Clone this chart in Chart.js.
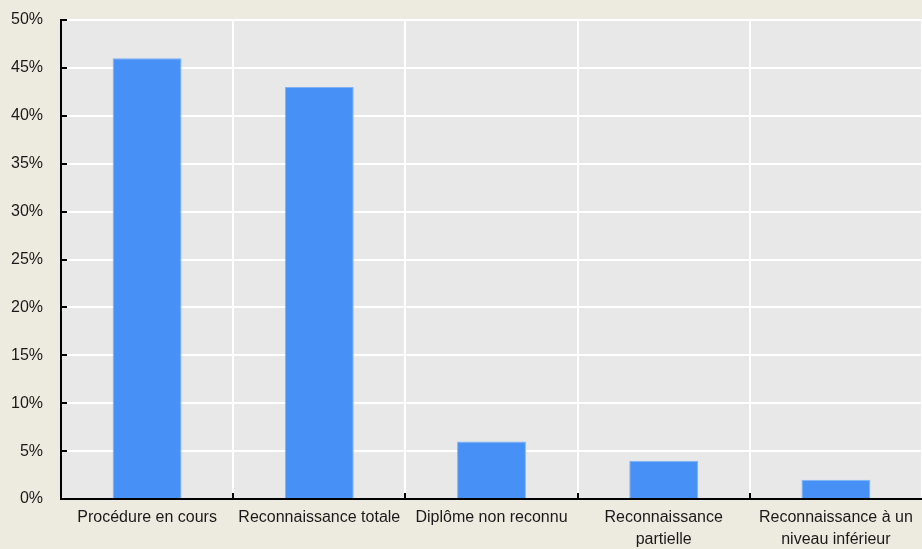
<!DOCTYPE html>
<html>
<head>
<meta charset="utf-8">
<script src="https://cdn.jsdelivr.net/npm/chart.js@4"></script>
<style>
  html, body { margin: 0; padding: 0; background: #edeadf; }
  #wrap { width: 922px; height: 549px; position: relative; }
</style>
</head>
<body>
<div id="wrap"><canvas id="bar-chart"></canvas></div>
<script>
var categories = [
  "Procédure en cours",
  "Reconnaissance totale",
  "Diplôme non reconnu",
  ["Reconnaissance", "partielle"],
  ["Reconnaissance à un", "niveau inférieur"]
];
var shares = [46, 43, 6, 4, 2];
var yTicks = [0, 5, 10, 15, 20, 25, 30, 35, 40, 45, 50];

// grey plot background behind everything
var plotBackground = {
  id: 'plotBackground',
  beforeDraw: function(chart) {
    var a = chart.chartArea, ctx = chart.ctx;
    ctx.save();
    ctx.fillStyle = '#e8e8e8';
    ctx.fillRect(a.left, a.top, a.right - a.left, a.bottom - a.top);
    ctx.restore();
  }
};

// small tick marks pointing into the plot, on both axes
var innerTicks = {
  id: 'innerTicks',
  afterDatasetsDraw: function(chart) {
    var ctx = chart.ctx, a = chart.chartArea;
    var x = chart.scales.x, y = chart.scales.y;
    ctx.save();
    ctx.strokeStyle = '#000';
    ctx.lineWidth = 2;
    ctx.beginPath();
    y.ticks.forEach(function(t, i) {
      var py = Math.round(y.getPixelForTick(i));
      ctx.moveTo(a.left, py);
      ctx.lineTo(a.left + 6, py);
    });
    for (var i = 1; i < categories.length; i++) {
      var px = Math.round((x.getPixelForTick(i - 1) + x.getPixelForTick(i)) / 2);
      ctx.moveTo(px, a.bottom);
      ctx.lineTo(px, a.bottom - 6);
    }
    ctx.stroke();
    ctx.restore();
  }
};

Chart.defaults.font.family = '"Liberation Sans", Arial, sans-serif';
Chart.defaults.font.size = 16;
Chart.defaults.color = '#1a1a1a';

new Chart(document.getElementById("bar-chart"), {
  type: 'bar',
  data: {
    labels: categories,
    datasets: [{
      data: shares,
      backgroundColor: '#4690f6',
      borderColor: '#7db2f6',
      borderWidth: 1,
      categoryPercentage: 1,
      barPercentage: 0.4
    }]
  },
  plugins: [plotBackground, innerTicks],
  options: {
    responsive: true,
    maintainAspectRatio: false,
    animation: false,
    layout: { padding: { left: 10, top: 20, right: 0, bottom: 0 } },
    plugins: {
      legend: { display: false },
      tooltip: { enabled: false }
    },
    scales: {
      x: {
        grid: { color: '#ffffff', lineWidth: 2, drawTicks: false, offset: true },
        border: { color: '#000', width: 2 },
        ticks: { padding: 8, maxRotation: 0, autoSkip: false, font: { lineHeight: 1.35 } },
        afterFit: function(s) {
          s.height = 50;
          s.paddingLeft = 0;
          s.paddingRight = 0;
        }
      },
      y: {
        min: 0,
        max: 50,
        afterBuildTicks: function(scale) {
          scale.ticks = yTicks.map(function(v) { return { value: v }; });
        },
        grid: { color: '#ffffff', lineWidth: 2, drawTicks: false },
        border: { color: '#000', width: 2 },
        ticks: {
          padding: 18,
          callback: function(v) { return v + '%'; }
        },
        afterFit: function(s) {
          s.width = 51;
          s.paddingTop = 0;
          s.paddingBottom = 0;
        }
      }
    }
  }
});
</script>
</body>
</html>
